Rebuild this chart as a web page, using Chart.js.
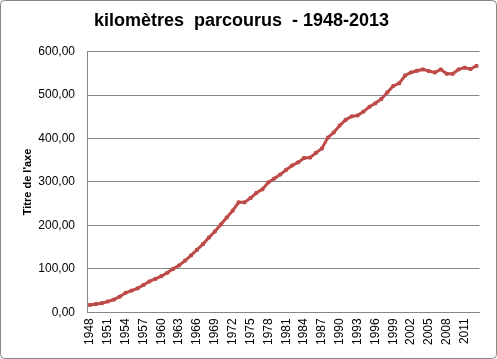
<!DOCTYPE html>
<html>
<head>
<meta charset="utf-8">
<script src="https://cdn.jsdelivr.net/npm/chart.js@4/dist/chart.umd.min.js"></script>
<style>
  body { margin: 0; background: #fff; }
  #wrap { width: 497px; height: 359px; }
</style>
</head>
<body>
<div id="wrap"><canvas id="myChart" width="497" height="359"></canvas></div>
<script>
// years on the category axis
var years = [];
for (var y = 1948; y <= 2013; y++) years.push(String(y));

// kilometres travelled
var km = [
  17, 19, 21, 25, 29, 36, 45, 50, 55, 63,
  71, 77, 83, 91, 100, 108, 119, 131, 144, 157,
  172, 186, 202, 218, 234, 253, 253, 263, 275, 283,
  299, 308, 317, 328, 338, 345, 355, 356, 367, 377,
  402, 414, 430, 443, 451, 453, 462, 473, 481, 491,
  506, 521, 527, 545, 552, 556, 559, 555, 552, 559,
  549, 549, 559, 563, 560, 567
];

var yTicks = [0, 100, 200, 300, 400, 500, 600];

var fontName = "'Liberation Sans', Arial, sans-serif";

// white background and the thin rounded border around the whole chart
var frame = {
  id: 'frame',
  beforeDraw: function (chart) {
    var c = chart.ctx;
    c.save();
    c.fillStyle = '#fff';
    c.fillRect(0, 0, chart.width, chart.height);
    c.strokeStyle = '#868686';
    c.lineWidth = 1;
    c.beginPath();
    c.roundRect(0.5, 0.5, chart.width - 1, chart.height - 1, 4);
    c.stroke();
    c.restore();
  }
};

var ctx = document.getElementById('myChart');
var myChart = new Chart(ctx, {
  type: 'line',
  data: {
    labels: years,
    datasets: [{
      data: km,
      borderColor: '#be4b48',
      backgroundColor: '#be4b48',
      borderWidth: 3,
      pointStyle: 'rect',
      pointRadius: 2,
      pointBorderWidth: 1,
      tension: 0
    }]
  },
  options: {
    responsive: false,
    animation: false,
    layout: { padding: { left: 0, right: 14, top: 0, bottom: 8 } },
    plugins: {
      legend: { display: false },
      tooltip: { enabled: false },
      title: {
        display: true,
        text: 'kilomètres  parcourus  - 1948-2013',
        color: '#000',
        font: { family: fontName, size: 18, weight: 'bold' },
        padding: { top: 10, bottom: 20 }
      }
    },
    scales: {
      x: {
        offset: true,
        grid: { display: false, drawTicks: false },
        border: { color: '#868686' },
        ticks: {
          autoSkip: false,
          maxRotation: 90,
          minRotation: 90,
          padding: 6,
          color: '#000',
          font: { family: fontName, size: 12 },
          callback: function (v, i) { return i % 3 === 0 ? years[i] : ''; }
        }
      },
      y: {
        min: 0,
        max: 600,
        afterBuildTicks: function (s) { s.ticks = yTicks.map(function (v) { return { value: v }; }); },
        afterFit: function (s) { s.width = 87; },
        grid: { color: '#868686', drawTicks: false },
        border: { color: '#868686' },
        title: {
          display: true,
          text: "Titre de l'axe",
          color: '#000',
          font: { family: fontName, size: 11, weight: 'bold' },
          padding: { top: 21 }
        },
        ticks: {
          padding: 12,
          color: '#000',
          font: { family: fontName, size: 12 },
          callback: function (v) { return v.toFixed(2).replace('.', ','); }
        }
      }
    }
  },
  plugins: [frame]
});
</script>
</body>
</html>
